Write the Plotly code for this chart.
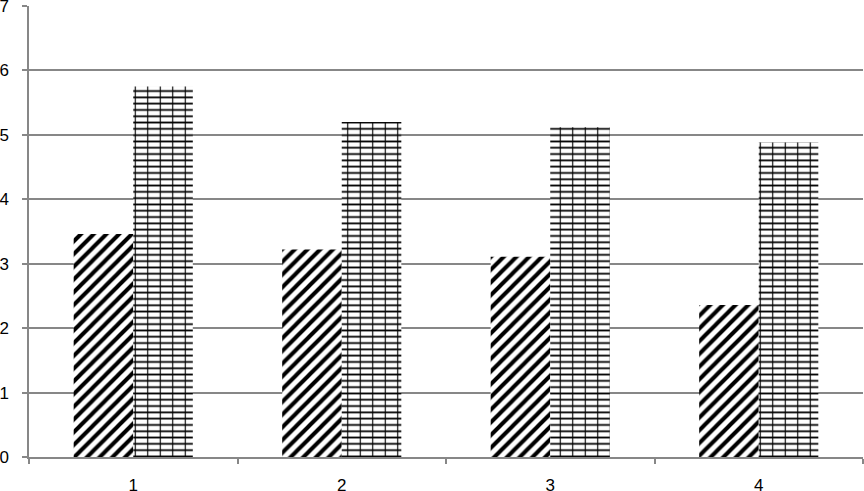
import plotly.graph_objects as go

categories = ["1", "2", "3", "4"]
series_a = [3.46, 3.22, 3.11, 2.36]
series_b = [5.75, 5.20, 5.12, 4.88]
y_ticks = [0, 1, 2, 3, 4, 5, 6, 7]

W = 1 / 3.5
GRAY = "#878787"

fig = go.Figure()
fig.add_trace(go.Bar(
    x=categories, y=series_a, width=W, offset=-W, opacity=1,
    marker=dict(color="black", line=dict(width=0),
                pattern=dict(shape="/", size=9, solidity=0.45,
                             fgcolor="black", bgcolor="white", fgopacity=1)),
    showlegend=False, name="Series 1"))
fig.add_trace(go.Bar(
    x=categories, y=series_b, width=W, offset=0, opacity=1,
    marker=dict(color="black", line=dict(width=0),
                pattern=dict(shape="-", size=6.3, solidity=0.28,
                             fgcolor="black", bgcolor="white", fgopacity=1)),
    showlegend=False, name="Series 2"))
fig.add_trace(go.Bar(
    x=categories, y=series_b, width=W, offset=0, opacity=1,
    marker=dict(color="black", line=dict(width=0),
                pattern=dict(shape="|", size=12.5, solidity=0.09,
                             fgcolor="black", bgcolor="rgba(0,0,0,0)", fgopacity=1)),
    showlegend=False, hoverinfo="skip", name="Series 2"))

fig.update_layout(
    width=864, height=491,
    margin=dict(l=29, r=1, t=6, b=34, autoexpand=False),
    paper_bgcolor="white", plot_bgcolor="white",
    barmode="overlay",
    font=dict(family="Liberation Sans, Arial, sans-serif", size=17, color="black"),
    xaxis=dict(type="category", tickson="boundaries", ticks="outside",
               ticklen=5, tickcolor=GRAY, tickwidth=1.5,
               showline=True, linecolor=GRAY, linewidth=1.5,
               showgrid=False, ticklabelstandoff=12, automargin=False,
               ticklabeloverflow="allow", range=[-0.5, 3.5]),
    yaxis=dict(range=[0, 7], tickvals=y_ticks, ticks="outside",
               ticklen=5, tickcolor=GRAY, tickwidth=1.5,
               showline=True, linecolor=GRAY, linewidth=1.5,
               showgrid=True, gridcolor=GRAY, gridwidth=1.5,
               zeroline=False, ticklabelstandoff=10, automargin=False,
               ticklabeloverflow="allow"),
)

fig.write_html("out.html", config={"displayModeBar": False},
               post_script="document.body.style.margin='0';")
